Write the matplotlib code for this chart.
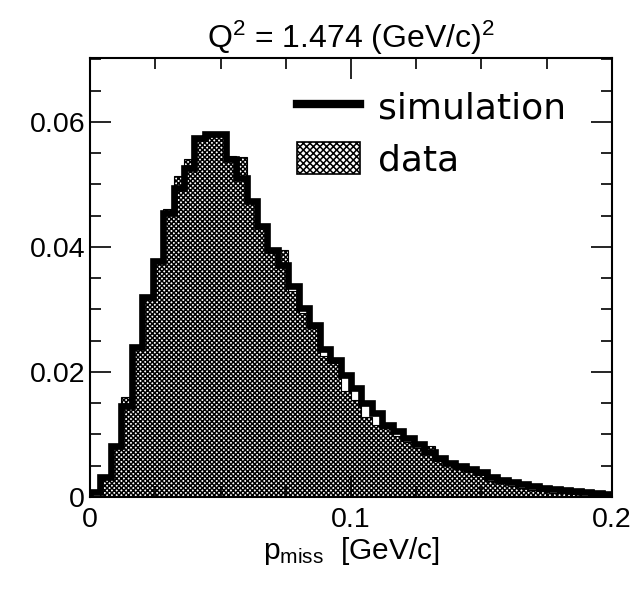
import numpy as np
import matplotlib.pyplot as plt
from matplotlib.lines import Line2D
from matplotlib.patches import Patch
from matplotlib.ticker import MultipleLocator

plt.rcParams['font.family'] = ['Liberation Sans', 'DejaVu Sans']
plt.rcParams['mathtext.fontset'] = 'custom'
plt.rcParams['mathtext.rm'] = 'Liberation Sans'
plt.rcParams['mathtext.it'] = 'Liberation Sans:italic'
plt.rcParams['hatch.linewidth'] = 1.1

# bin edges: 50 bins from 0 to 0.2 GeV/c
edges = np.linspace(0, 0.2, 51)

# simulation (thick black line)
sim = [0.0008, 0.0032, 0.0082, 0.0146, 0.0240, 0.0320, 0.0378, 0.0454, 0.0494, 0.0526,
       0.0574, 0.0580, 0.0580, 0.0540, 0.0510, 0.0474, 0.0434, 0.0395, 0.0371, 0.0338,
       0.0302, 0.0275, 0.0237, 0.0219, 0.0195, 0.0174, 0.0150, 0.0134, 0.0115, 0.0105,
       0.0095, 0.0085, 0.0072, 0.0062, 0.0055, 0.0050, 0.0045, 0.0040, 0.0032, 0.0027,
       0.0024, 0.0021, 0.0018, 0.0015, 0.0013, 0.0011, 0.0009, 0.0008, 0.0006, 0.0005]

# data (hatched histogram)
data = [0.0000, 0.0030, 0.0080, 0.0160, 0.0240, 0.0320, 0.0380, 0.0460, 0.0514, 0.0540,
        0.0574, 0.0578, 0.0580, 0.0545, 0.0544, 0.0474, 0.0434, 0.0390, 0.0395, 0.0330,
        0.0295, 0.0270, 0.0225, 0.0215, 0.0170, 0.0155, 0.0128, 0.0115, 0.0110, 0.0098,
        0.0088, 0.0078, 0.0082, 0.0058, 0.0052, 0.0045, 0.0040, 0.0035, 0.0026, 0.0022,
        0.0018, 0.0015, 0.0011, 0.0009, 0.0007, 0.0006, 0.0004, 0.0002, 0.0001, 0.0000]

fig = plt.figure(figsize=(6.38, 5.89), dpi=100)
ax = fig.add_axes([0.1411, 0.1562, 0.8181, 0.7453])

ax.stairs(data, edges, fill=True, facecolor='white', edgecolor='black',
          hatch='xxxxxxx', linewidth=0.8)
ax.stairs(sim, edges, color='black', linewidth=4.8)

ax.set_xlim(0, 0.2)
ax.set_ylim(0, 0.0702)
ax.xaxis.set_major_locator(MultipleLocator(0.1))
ax.xaxis.set_minor_locator(MultipleLocator(0.025))
ax.yaxis.set_major_locator(MultipleLocator(0.02))
ax.yaxis.set_minor_locator(MultipleLocator(0.005))
ax.tick_params(which='both', direction='in', top=True, right=True, width=1.2,
               labelsize=20.5)
ax.tick_params(which='major', length=15)
ax.tick_params(which='minor', length=8)
ax.tick_params(axis='x', pad=7)
ax.xaxis.set_major_formatter(plt.FuncFormatter(lambda v, p: f'{v:g}'))
ax.yaxis.set_major_formatter(plt.FuncFormatter(lambda v, p: f'{v:g}'))
for s in ax.spines.values():
    s.set_linewidth(1.5)

ax.set_title('Q$^2$ = 1.474 (GeV/c)$^2$', fontsize=23, pad=7)
ax.set_xlabel('p$_{\\mathrm{miss}}$  [GeV/c]', fontsize=21.5, labelpad=2)

handles = [Line2D([], [], color='black', linewidth=6),
           Patch(facecolor='white', edgecolor='black', hatch='xxxxx', linewidth=1.2)]
ax.legend(handles, ['simulation', 'data'], loc='upper right',
          bbox_to_anchor=(0.94, 0.96), frameon=False,
          prop={'family': 'DejaVu Sans', 'size': 26},
          handlelength=1.75, handleheight=1.0, handletextpad=0.5,
          labelspacing=0.45, borderaxespad=0)

fig.savefig('out.png', dpi=100)
